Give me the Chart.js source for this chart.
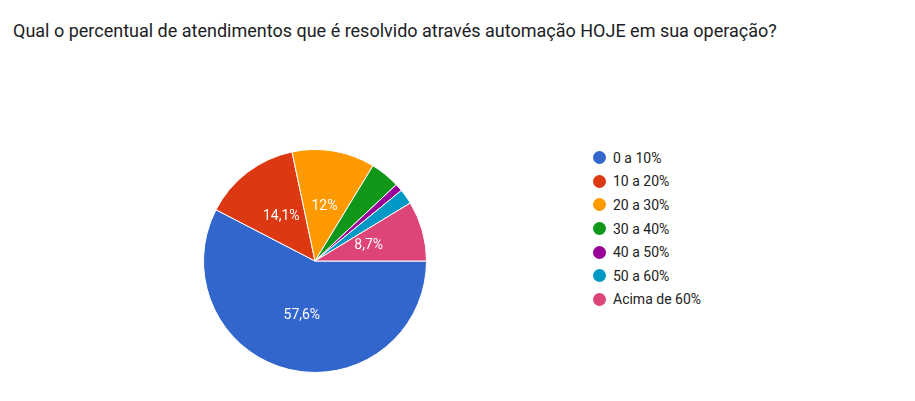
<!DOCTYPE html>
<html><head><meta charset="utf-8">
<script src="https://cdn.jsdelivr.net/npm/chart.js@4"></script>
<style>
body{margin:0;background:#fff;font-family:Roboto,Arial,sans-serif;width:915px;height:401px;position:relative;overflow:hidden}
#title{position:absolute;left:13px;top:17px;font-size:18px;line-height:28px;color:#202124;width:820px}
#pie{position:absolute;left:199px;top:145px;width:232px;height:232px}
#legend{position:absolute;left:593px;top:146px;font-size:14px;color:#222}
.it{height:23.6px;display:flex;align-items:center}
.dot{width:13px;height:13px;border-radius:50%;margin-right:7px}
</style></head><body>
<div id="title">Qual o percentual de atendimentos que é resolvido através automação HOJE em sua operação?</div>
<div id="pie"><canvas id="c"></canvas></div>
<div id="legend"></div>
<script>
const categories=["0 a 10%","10 a 20%","20 a 30%","30 a 40%","40 a 50%","50 a 60%","Acima de 60%"];
const values=[57.6,14.1,12,4.3,1.1,2.2,8.7];
const labels=["57,6%","14,1%","12%","","","","8,7%"];
const colors=["#3366cc","#dc3912","#ff9900","#109618","#990099","#0099c6","#dd4477"];
const lg=document.getElementById('legend');
categories.forEach((c,i)=>{lg.innerHTML+=`<div class="it"><span class="dot" style="background:${colors[i]}"></span>${c}</div>`});
const lbl={id:'lbl',afterDatasetsDraw(ch){const ctx=ch.ctx;ctx.save();ctx.fillStyle='#fff';ctx.font='14px Roboto';ctx.textAlign='center';ctx.textBaseline='middle';
ch.getDatasetMeta(0).data.forEach((a,i)=>{if(!labels[i])return;const p=a.tooltipPosition();ctx.fillText(labels[i],p.x,p.y);});ctx.restore();}};
new Chart(document.getElementById('c'),{type:'pie',data:{labels:categories,datasets:[{data:values,backgroundColor:colors,borderColor:'#fff',borderWidth:1}]},
options:{responsive:true,maintainAspectRatio:false,animation:false,rotation:90,layout:{padding:4},plugins:{legend:{display:false},tooltip:{enabled:false}}},plugins:[lbl]});
</script></body></html>
